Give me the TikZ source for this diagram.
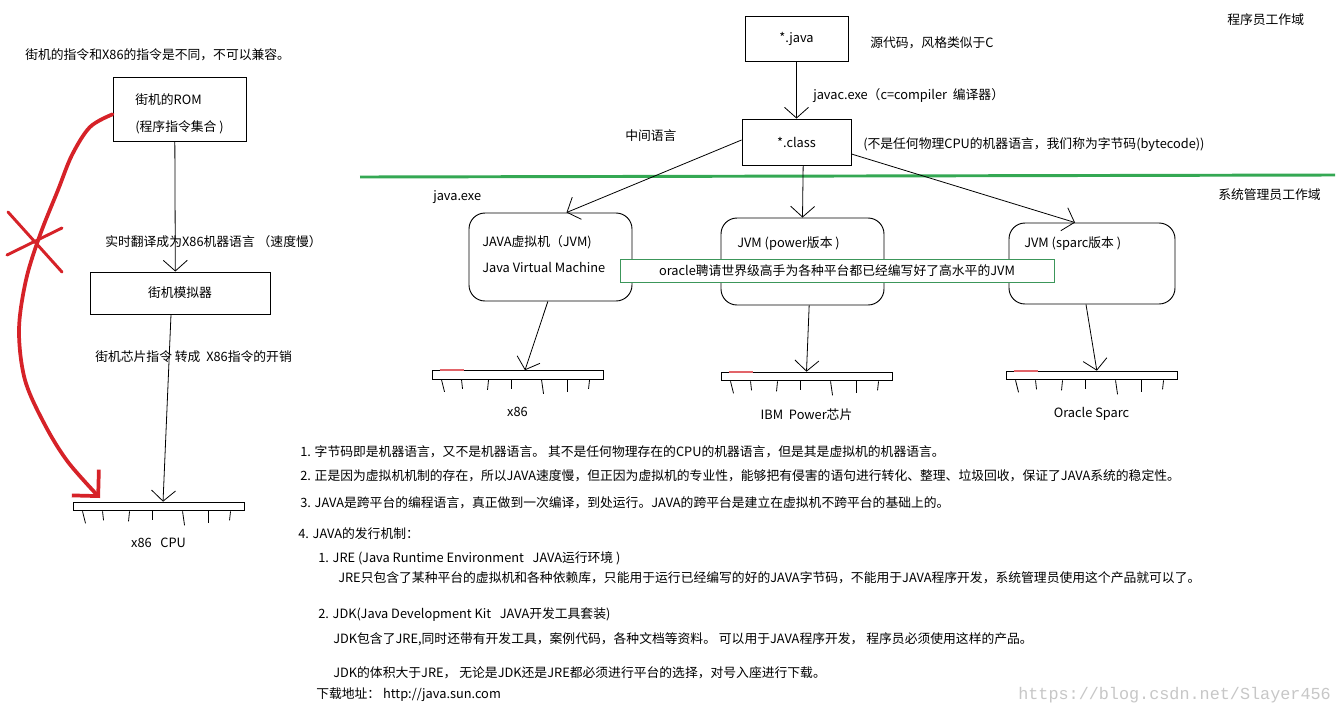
\documentclass[tikz,border=0pt]{standalone}
\usepackage{fontspec}
\setmainfont{Noto Sans CJK SC}
\newfontfamily\markfont{Liberation Mono}
\usetikzlibrary{arrows.meta,positioning}
\definecolor{penred}{RGB}{214,34,40}
\definecolor{linegreen}{RGB}{52,168,83}
\definecolor{framegreen}{RGB}{60,150,90}
\begin{document}
\begin{tikzpicture}[
  x=0.75pt, y=-0.75pt,
  every node/.style={font=\fontsize{9.6pt}{11pt}\selectfont, inner sep=0pt},
  box/.style={draw, line width=0.7pt, fill=white},
  jvmbox/.style={box, rounded corners=12pt},
  chip/.style={draw, line width=0.7pt, minimum width=128.25pt, minimum height=6.5pt},
  txt/.style={anchor=west},
  arr/.style={-{Straight Barb[length=8pt,width=18pt]}, line width=0.6pt},
  redpen/.style={penred, line width=2.8pt, line cap=round}
]
\fill[white] (0,0) rectangle (1340,715);
\useasboundingbox (0,0) rectangle (1340,715);

\node[txt] (note) at (25,55) {街机的指令和X86的指令是不同，不可以兼容。};
\node[box, minimum width=99.75pt, minimum height=48pt, align=left,
  font=\fontsize{9.6pt}{20pt}\selectfont] (rom) at (179.5,109) {\rule{0pt}{15pt}街机的ROM\\(程序指令集合 )};
\node[txt] (slowlbl) at (105,242) {实时翻译成为X86机器语言 （速度慢）};
\node[box, minimum width=135pt, minimum height=31.5pt] (sim) at (180,293) {\raisebox{-3pt}{街机模拟器}};
\node[txt] (costlbl) at (95,357) {街机芯片指令 转成\ \ X86指令的开销};
\node[chip] (cpu) at (158.5,506.5) {};
\node[below=20pt of cpu] (cpulbl) {x86\ \ \ CPU};

\node[box, minimum width=77.25pt, minimum height=33.75pt] (java) at (796.5,38.5) {*.java};
\node[box, minimum width=81.75pt, minimum height=34.5pt] (class) at (796.5,142) {*.class};
\node[txt] (srclbl) at (870,43) {源代码，风格类似于C};
\node[txt] (javaclbl) at (813,96) {javac.exe（c=compiler\ \ 编译器）};
\node[txt] (midlbl) at (625,136) {中间语言};
\node[txt] (bytelbl) at (863,145) {(不是任何物理CPU的机器语言，我们称为字节码(bytecode))};
\node[txt] (devlbl) at (1227,20) {程序员工作域};
\node[txt] (admlbl) at (1218,195) {系统管理员工作域};
\node[txt] (runlbl) at (433,197) {java.exe};
\coordinate (gleft) at (360,177);
\coordinate (gright) at (1335,175);
\draw[linegreen, line width=2.2pt] (gleft) -- (gright);

\node[jvmbox, minimum width=122.25pt, minimum height=66pt] (jvma) at (550.5,257) {};
\node[jvmbox, minimum width=122.25pt, minimum height=65.25pt] (jvmb) at (802.5,261.5) {};
\node[jvmbox, minimum width=124.5pt, minimum height=60.75pt] (jvmc) at (1092,263.5) {};
\node[txt] (jvmatop) at (482,242) {JAVA虚拟机（JVM)};
\node[txt] (jvmabot) at (482,267) {Java Virtual Machine};
\node[txt] (jvmbtop) at (737,244) {JVM (power版本 )};
\node[txt] (jvmctop) at (1024,244) {JVM (sparc版本 )};
\node[box, draw=framegreen, line width=0.6pt, minimum width=325.5pt, minimum height=17.25pt] (oracle)
  at (837,270.5) {oracle聘请世界级高手为各种平台都已经编写好了高水平的JVM};

\node[chip] (chipa) at (517.5,375) {};
\node[chip] (chipb) at (806.5,376.5) {};
\node[chip] (chipc) at (1091.5,375.5) {};
\node[below=20pt of chipa] (x86lbl) {x86};
\node[below=20pt of chipb] (powerlbl) {IBM\ \ Power芯片};
\node[below=20pt of chipc] (sparclbl) {Oracle Sparc};

\foreach \c in {cpu,chipa,chipb,chipc}
  \foreach \dx/\sx/\len in {10/3/12, 30/1/9, 57/-1/10, 80/0/9, 110/2/14, 136/0/12, 158/-1/9}
    \draw[line width=0.6pt] ([xshift=\dx*0.75pt]\c.south west) -- ++(\sx,\len);
\foreach \c in {chipa,chipb,chipc}
  \draw[penred!70, line width=1.4pt] ([xshift=6pt]\c.north west) -- ([xshift=24pt]\c.north west);

\draw[arr] ([xshift=-3.5pt]rom.south) -- ([xshift=-3.5pt]sim.north);
\draw[arr] ([xshift=-6.75pt]sim.south) -- ([xshift=3.4pt]cpu.north);
\draw[arr] (java) -- (class);
\draw[arr] ([yshift=1.5pt]class.west) -- ([xshift=12pt]jvma.north);
\draw[arr] ([xshift=5pt]class.south) -- (jvmb.north);
\draw[arr] ([yshift=-9pt]class.east) -- ([xshift=-12.75pt]jvmc.north);
\draw[arr] ([xshift=-2pt]jvma.south) -- ([xshift=5.6pt]chipa.north);
\draw[arr] ([xshift=5pt]jvmb.south) -- (chipb.north);
\draw[arr] ([xshift=-4.5pt]jvmc.south) -- ([xshift=4pt]chipc.north);

\draw[redpen, -{Straight Barb[length=14pt,width=28pt]}] plot[smooth, tension=0.55] coordinates
  {([yshift=-4pt]rom.west) (90,127) (72,155) (58,190) (40,235) (26,280) (19,330) (25,380) (45,425) (68,462) (100,498)};
\draw[redpen, line width=2.2pt] (8,212) -- (62,272);
\draw[redpen, line width=2.2pt] (7,255) -- (62,228);

\node[txt] (pointa) at (300,452) {1. 字节码即是机器语言，又不是机器语言。 其不是任何物理存在的CPU的机器语言，但是其是虚拟机的机器语言。};
\node[txt] (pointb) at (300,476) {2. 正是因为虚拟机机制的存在，所以JAVA速度慢，但正因为虚拟机的专业性，能够把有侵害的语句进行转化、整理、垃圾回收，保证了JAVA系统的稳定性。};
\node[txt] (pointc) at (300,503) {3. JAVA是跨平台的编程语言，真正做到一次编译，到处运行。JAVA的跨平台是建立在虚拟机不跨平台的基础上的。};
\node[txt] (pointd) at (298,534) {4. JAVA的发行机制：};
\node[txt] (jrehead) at (318,558) {1. JRE (Java Runtime Environment\ \ \ JAVA运行环境 )};
\node[txt] (jretext) at (338,578) {JRE只包含了某种平台的虚拟机和各种依赖库，只能用于运行已经编写的好的JAVA字节码，不能用于JAVA程序开发，系统管理员使用这个产品就可以了。};
\node[txt] (jdkhead) at (318,615) {2. JDK(Java Development Kit\ \ \ JAVA开发工具套装)};
\node[txt] (jdktext) at (333,639) {JDK包含了JRE,同时还带有开发工具，案例代码，各种文档等资料。 可以用于JAVA程序开发， 程序员必须使用这样的产品。};
\node[txt] (jdksize) at (333,673) {JDK的体积大于JRE， 无论是JDK还是JRE都必须进行平台的选择，对号入座进行下载。};
\node[txt] (dlurl) at (316,695) {下载地址： http://java.sun.com};
\node[txt, font=\markfont\fontsize{12.6pt}{14pt}\selectfont, text=black!22] (wmark) at (1018,695) {https://blog.csdn.net/Slayer456};
\end{tikzpicture}
\end{document}
